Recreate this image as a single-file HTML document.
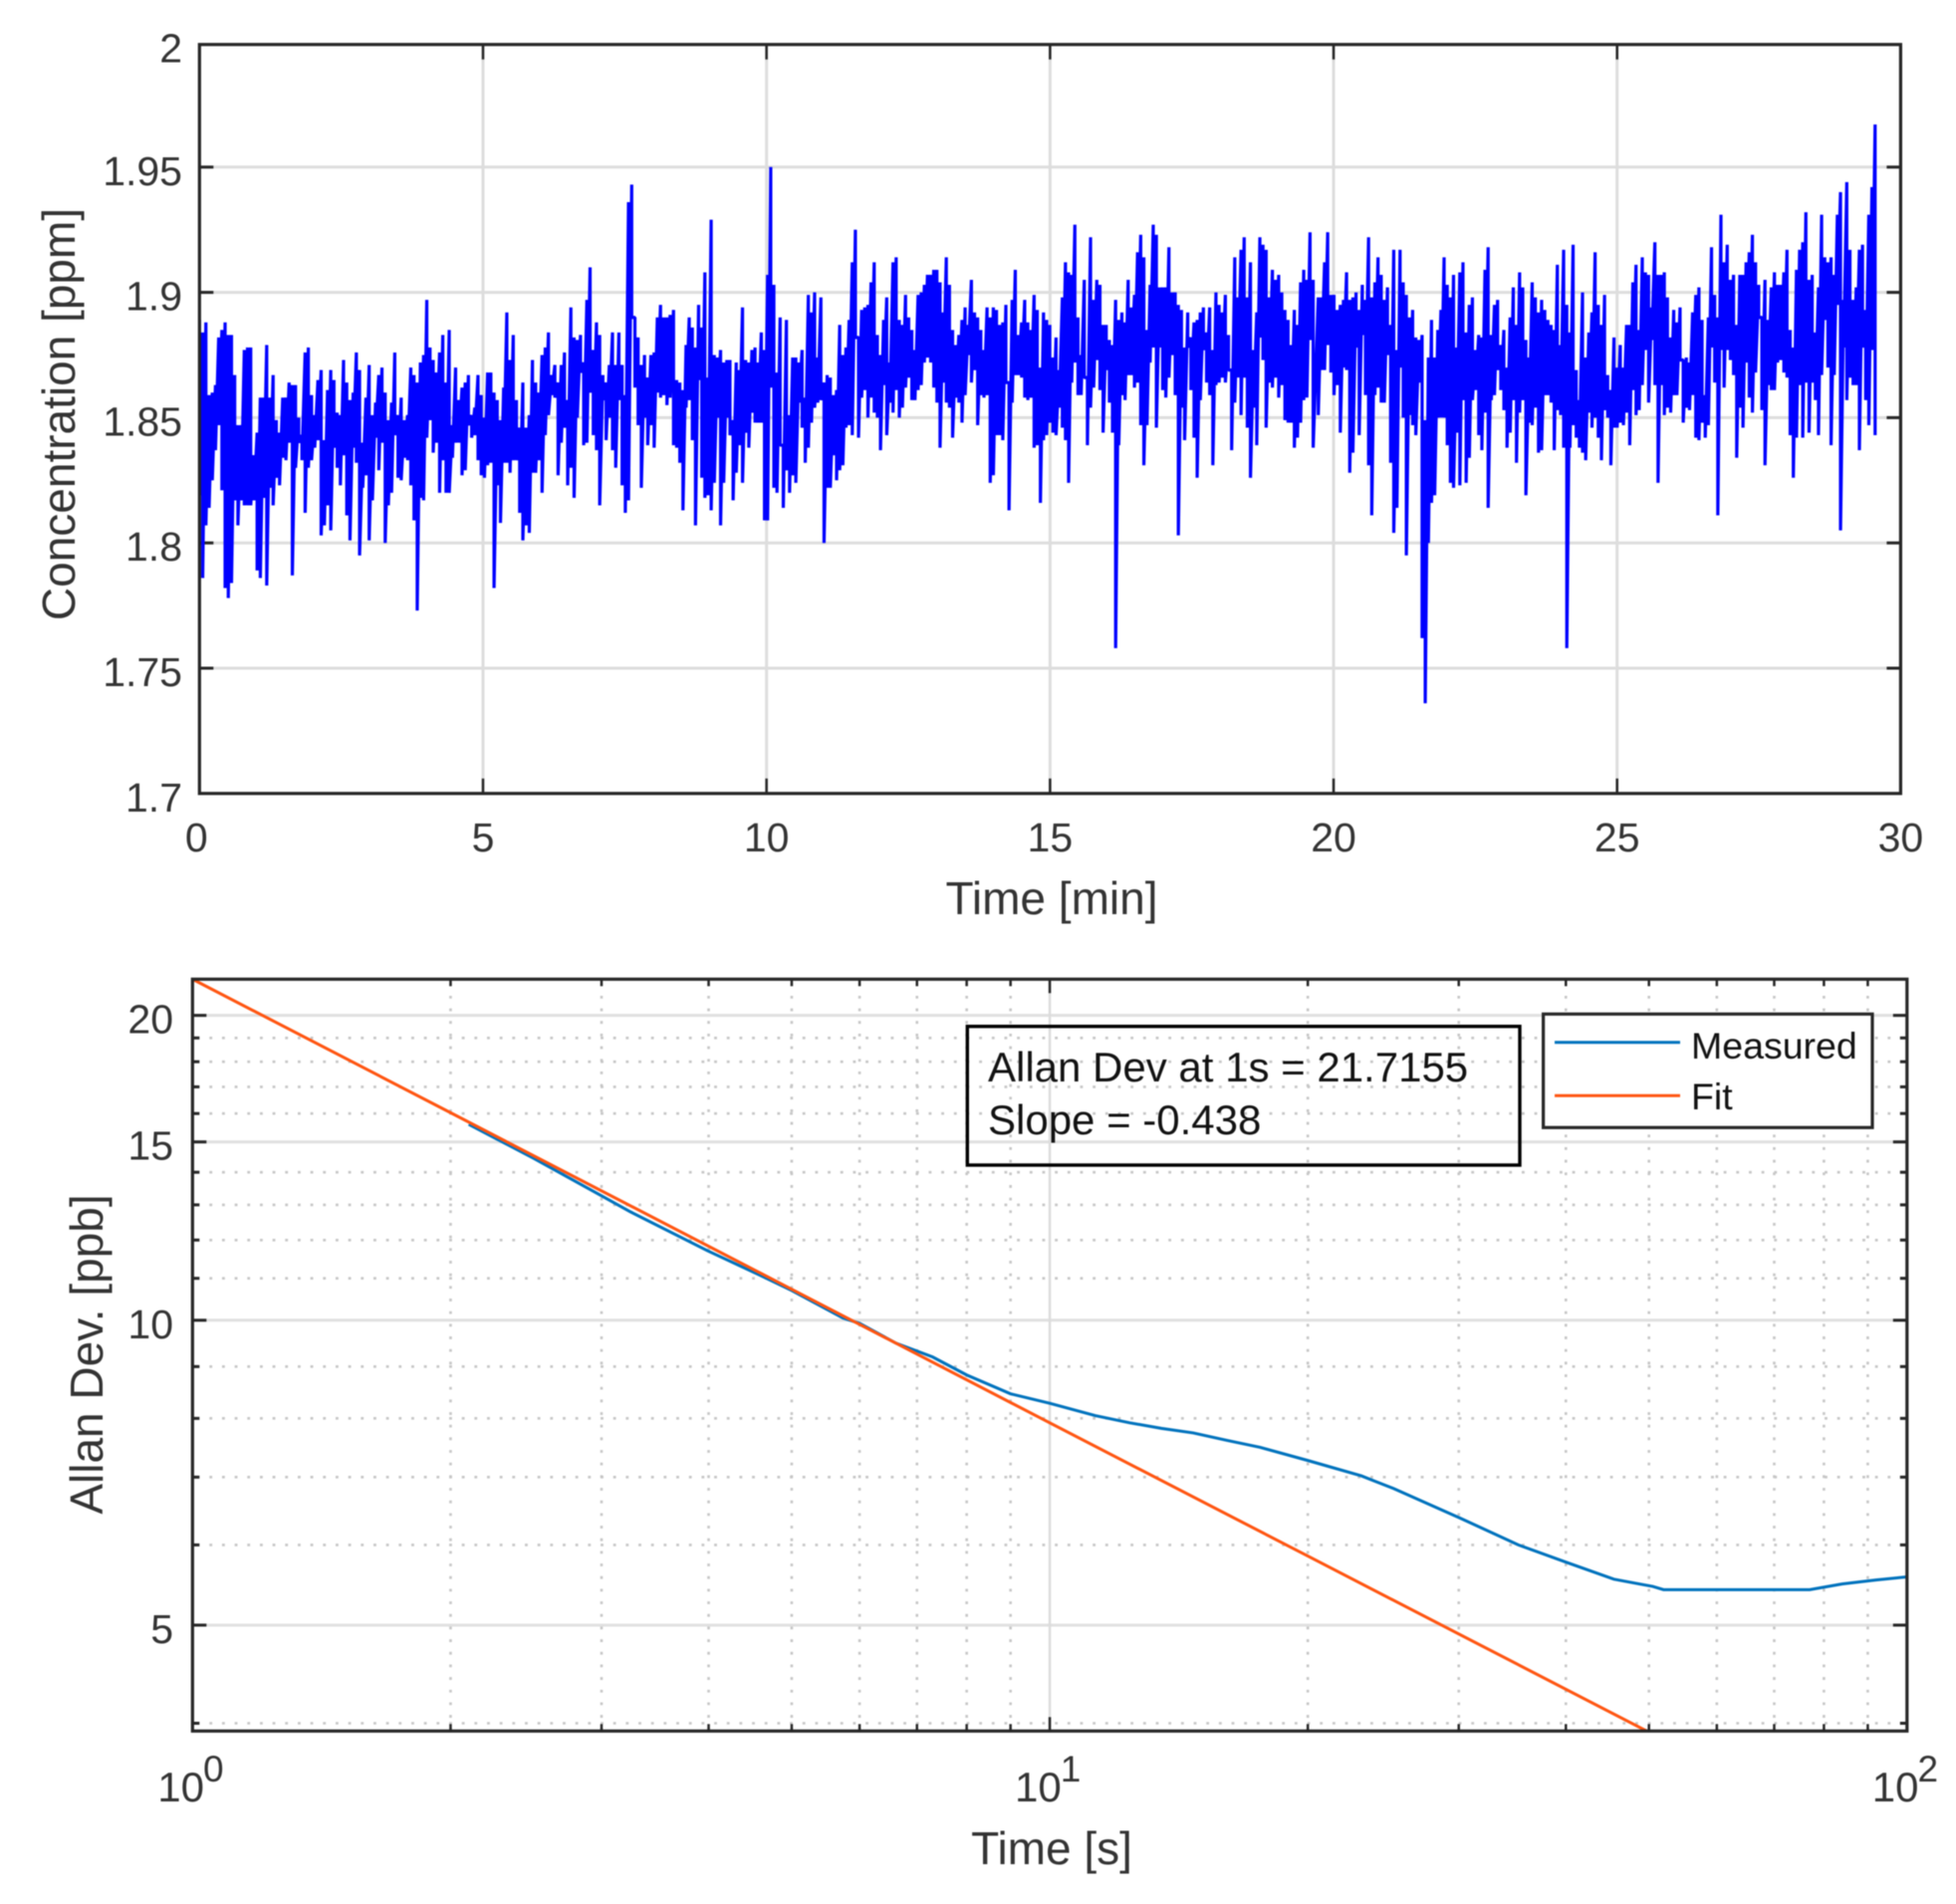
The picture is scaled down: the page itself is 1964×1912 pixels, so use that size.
<!DOCTYPE html>
<html lang="en">
<head>
<meta charset="utf-8">
<title>Concentration time series and Allan deviation</title>
<style>
html,body{margin:0;padding:0;background:#fff;}
svg{display:block;filter:blur(0.5px);}
text{font-family:"Liberation Sans",Arial,sans-serif;fill:#333333;}
</style>
</head>
<body>
<svg id="figure" xmlns="http://www.w3.org/2000/svg" width="1964" height="1912" viewBox="0 0 1964 1912">
  <defs>
    <clipPath id="clip-top"><rect x="200.3" y="44.7" width="1708.1" height="752.1"/></clipPath>
    <clipPath id="clip-bottom"><rect x="193.3" y="983.3" width="1721.5" height="755"/></clipPath>
  </defs>
  <rect x="0" y="0" width="1964" height="1912" fill="#ffffff"/>
  <g id="top-plot"></g>
  <g id="bottom-plot"></g>
  <text transform="translate(75,416) rotate(-90)" text-anchor="middle" font-size="46">Concentration [ppm]</text>
  <text x="1056" y="918" text-anchor="middle" font-size="46">Time [min]</text>
  <text transform="translate(103,1360) rotate(-90)" text-anchor="middle" font-size="46">Allan Dev. [ppb]</text>
  <text x="1056" y="1872" text-anchor="middle" font-size="46">Time [s]</text>
  <g>
    <rect x="971.3" y="1030.7" width="554.7" height="139.3" fill="none" stroke="#000000" stroke-width="3.4"/>
    <text x="992" y="1086" font-size="42" style="fill:#111111">Allan Dev at 1s = 21.7155</text>
    <text x="992" y="1139" font-size="42" style="fill:#111111">Slope = -0.438</text>
  </g>
  <g>
    <rect x="1549.6" y="1018.3" width="330.4" height="114" fill="#ffffff" stroke="#262626" stroke-width="3.2"/>
    <line x1="1561" x2="1687" y1="1046.7" y2="1046.7" stroke="#0072bd" stroke-width="3"/>
    <text x="1698" y="1063" font-size="37.5" style="fill:#111111">Measured</text>
    <line x1="1561" x2="1687" y1="1100.3" y2="1100.3" stroke="#ff5511" stroke-width="3"/>
    <text x="1698" y="1114" font-size="37.5" style="fill:#111111">Fit</text>
  </g>
</svg>
<script>
// ---------- chart data ----------
const topXTicks = [0, 5, 10, 15, 20, 25, 30];
const topYTicks = [1.7, 1.75, 1.8, 1.85, 1.9, 1.95, 2];
// Each stretch of the record: readings in ppm, as high / low pairs per plotted time step.
const segmentStartMin = [0, 8.36, 19.73];
const segmentEndMin = [8.30, 19.64, 29.55];
const concentrationEarly = [
1.889,1.819,1.884,1.786,1.888,1.807,1.859,1.814,1.860,1.825,1.863,1.837,1.882,1.847,1.885,1.821,1.888,1.782,1.883,1.778,
1.883,1.784,1.867,1.817,1.847,1.807,1.847,1.817,1.877,1.815,1.878,1.815,1.878,1.815,1.835,1.817,1.844,1.789,1.858,1.786,
1.858,1.818,1.879,1.783,1.858,1.822,1.867,1.815,1.849,1.826,1.844,1.823,1.858,1.834,1.858,1.833,1.864,1.840,1.863,1.787,
1.863,1.830,1.850,1.840,1.843,1.833,1.876,1.812,1.878,1.830,1.859,1.833,1.851,1.838,1.865,1.841,1.869,1.803,1.841,1.807,
1.861,1.815,1.869,1.805,1.865,1.838,1.852,1.830,1.851,1.823,1.873,1.835,1.864,1.811,1.857,1.801,1.860,1.838,1.876,1.832,
1.869,1.795,1.840,1.822,1.858,1.827,1.871,1.801,1.851,1.817,1.856,1.842,1.867,1.829,1.870,1.840,1.860,1.800,1.849,1.815,
1.856,1.820,1.876,1.843,1.851,1.826,1.858,1.825,1.849,1.834,1.851,1.833,1.870,1.823,1.867,1.809,1.864,1.773,1.872,1.818,
1.875,1.817,1.897,1.842,1.878,1.849,1.873,1.836,1.868,1.840,1.876,1.820,1.883,1.833,1.864,1.820,1.885,1.820,1.847,1.834,
1.870,1.840,1.857,1.840,1.862,1.827,1.864,1.829,1.867,1.847,1.851,1.842,1.854,1.843,1.867,1.833,1.859,1.827,1.850,1.826,
1.868,1.831,1.868,1.832,1.860,1.782,1.857,1.823,1.849,1.808,1.862,1.832,1.892,1.832,1.873,1.828,1.883,1.833,1.857,1.833,
1.846,1.812,1.864,1.801,1.846,1.807,1.851,1.804,1.873,1.828,1.864,1.828,1.860,1.833,1.875,1.820,1.878,1.843,1.884,1.851,
1.867,1.859,1.871,1.858,1.864,1.827,1.871,1.840,1.876,1.846,1.857,1.823,1.894,1.830,1.882,1.818,1.881,1.850,1.883,1.868,
1.872,1.839,1.897,1.840,1.910,1.860,1.877,1.843,1.888,1.837,1.883,1.815,1.867,1.857,1.864,1.841,1.871,1.850,1.884,1.837,
1.871,1.830,1.884,1.857,1.871,1.823,1.859,1.812,1.936,1.817,1.943,1.890,1.890,1.862,1.882,1.847,1.871,1.822,1.875,1.850,
1.866,1.839,1.875,1.847,1.876,1.838,1.890,1.860,1.895,1.858,1.890,1.859,1.890,1.855,1.891,1.858
];
const concentrationMiddle = [
1.893,1.839,1.865,1.838,1.864,1.832,1.861,1.813,1.879,1.854,1.890,1.857,1.886,1.841,1.878,1.807,1.895,1.865,1.886,1.826,
1.908,1.818,1.866,1.819,1.929,1.813,1.875,1.824,1.874,1.850,1.877,1.807,1.872,1.824,1.873,1.850,1.873,1.843,1.849,1.817,
1.872,1.828,1.869,1.839,1.894,1.824,1.873,1.844,1.872,1.838,1.877,1.852,1.878,1.848,1.872,1.848,1.884,1.848,1.877,1.809,
1.907,1.809,1.950,1.862,1.903,1.822,1.868,1.820,1.890,1.839,1.839,1.814,1.889,1.829,1.851,1.820,1.874,1.827,1.874,1.824,
1.872,1.856,1.877,1.846,1.858,1.832,1.899,1.838,1.892,1.848,1.900,1.854,1.874,1.856,1.898,1.857,1.864,1.800,1.867,1.822,
1.866,1.822,1.859,1.835,1.861,1.825,1.887,1.829,1.875,1.831,1.878,1.846,1.889,1.847,1.912,1.843,1.925,1.882,1.882,1.842,
1.893,1.858,1.894,1.861,1.895,1.850,1.904,1.858,1.912,1.852,1.883,1.850,1.875,1.837,1.889,1.863,1.898,1.843,1.872,1.856,
1.912,1.852,1.914,1.861,1.889,1.850,1.887,1.854,1.899,1.862,1.890,1.866,1.885,1.857,1.877,1.857,1.899,1.861,1.900,1.863,
1.903,1.872,1.907,1.874,1.907,1.872,1.909,1.862,1.909,1.856,1.904,1.838,1.892,1.864,1.914,1.856,1.903,1.854,1.885,1.842,
1.879,1.858,1.883,1.856,1.889,1.848,1.894,1.859,1.887,1.875,1.905,1.864,1.892,1.869,1.890,1.847,1.885,1.859,1.877,1.858,
1.894,1.859,1.890,1.824,1.894,1.827,1.893,1.843,1.887,1.843,1.888,1.841,1.895,1.864,1.864,1.813,1.897,1.856,1.909,1.867,
1.883,1.867,1.888,1.866,1.897,1.858,1.888,1.857,1.885,1.858,1.899,1.838,1.893,1.839,1.870,1.816,1.892,1.841,1.889,1.843,
1.887,1.848,1.874,1.844,1.882,1.843,1.869,1.854,1.898,1.846,1.912,1.841,1.908,1.824,1.907,1.864,1.927,1.872,1.890,1.859,
1.875,1.859,1.905,1.866,1.866,1.839,1.922,1.854,1.897,1.862,1.905,1.873,1.903,1.861,1.887,1.844,1.887,1.869,1.881,1.856,
1.879,1.844,1.897,1.758,1.889,1.839,1.892,1.859,1.888,1.857,1.905,1.867,1.894,1.867,1.899,1.862,1.916,1.864,1.923,1.847,
1.914,1.831,1.885,1.847,1.903,1.872,1.927,1.878,1.923,1.846,1.902,1.878,1.902,1.861,1.902,1.858,1.918,1.866,1.900,1.875,
1.900,1.859,1.895,1.803,1.893,1.854,1.878,1.841,1.892,1.878,1.882,1.861,1.888,1.842,1.889,1.826,1.892,1.857,1.894,1.877,
1.884,1.864,1.894,1.859,1.877,1.831,1.900,1.863,1.895,1.864,1.892,1.866,1.899,1.864,1.883,1.869,1.869,1.837,1.914,1.856,
1.898,1.866,1.917,1.851,1.922,1.866,1.898,1.846,1.912,1.826,1.877,1.854,1.892,1.839,1.922,1.882,1.919,1.873,1.917,1.846,
1.898,1.864,1.909,1.862,1.905,1.866,1.907,1.858,1.900,1.863,1.893,1.849,1.889,1.848,1.879,1.848,1.893,1.838,1.887,1.842,
1.904,1.848,1.909,1.857,1.905,1.858,1.924,1.881,1.905,1.838
];
const concentrationLate = [
1.898,1.851,1.898,1.869,1.912,1.869,1.924,1.879,1.899,1.868,1.899,1.859,1.893,1.863,1.895,1.844,1.897,1.870,1.908,1.869,
1.897,1.828,1.898,1.836,1.900,1.878,1.893,1.843,1.903,1.883,1.897,1.859,1.922,1.831,1.898,1.811,1.904,1.859,1.914,1.862,
1.907,1.856,1.897,1.856,1.902,1.875,1.887,1.832,1.917,1.804,1.877,1.814,1.917,1.870,1.904,1.850,1.899,1.795,1.890,1.851,
1.893,1.847,1.882,1.843,1.881,1.864,1.883,1.762,1.849,1.736,1.874,1.800,1.889,1.816,1.874,1.819,1.885,1.850,1.893,1.850,
1.914,1.850,1.903,1.839,1.898,1.824,1.907,1.822,1.878,1.844,1.908,1.823,1.912,1.857,1.884,1.824,1.895,1.834,1.898,1.857,
1.877,1.861,1.883,1.843,1.882,1.837,1.909,1.852,1.918,1.814,1.883,1.857,1.895,1.859,1.897,1.869,1.879,1.861,1.885,1.853,
1.870,1.838,1.890,1.844,1.902,1.857,1.887,1.832,1.908,1.852,1.902,1.857,1.881,1.819,1.874,1.848,1.904,1.847,1.898,1.854,
1.892,1.836,1.897,1.837,1.893,1.859,1.889,1.859,1.887,1.856,1.885,1.837,1.911,1.853,1.879,1.851,1.917,1.838,1.895,1.758,
1.884,1.838,1.919,1.847,1.869,1.842,1.857,1.838,1.900,1.836,1.874,1.833,1.884,1.852,1.892,1.846,1.916,1.850,1.895,1.842,
1.887,1.833,1.899,1.853,1.867,1.850,1.861,1.831,1.882,1.846,1.870,1.846,1.879,1.848,1.870,1.847,1.887,1.852,1.887,1.839,
1.904,1.861,1.911,1.851,1.885,1.853,1.914,1.863,1.908,1.877,1.907,1.856,1.894,1.881,1.920,1.863,1.907,1.824,1.907,1.863,
1.908,1.851,1.898,1.854,1.882,1.852,1.893,1.859,1.888,1.859,1.894,1.873,1.873,1.848,1.874,1.854,1.872,1.853,1.892,1.859,
1.899,1.842,1.902,1.841,1.889,1.848,1.859,1.842,1.890,1.847,1.918,1.878,1.899,1.864,1.890,1.811,1.931,1.877,1.912,1.862,
1.919,1.877,1.905,1.873,1.907,1.867,1.887,1.834,1.907,1.854,1.907,1.846,1.912,1.872,1.916,1.858,1.923,1.852,1.912,1.868,
1.903,1.890,1.890,1.853,1.905,1.831,1.889,1.863,1.902,1.861,1.908,1.861,1.903,1.872,1.903,1.873,1.908,1.868,1.917,1.866,
1.885,1.843,1.878,1.826,1.909,1.842,1.917,1.863,1.920,1.842,1.932,1.864,1.905,1.844,1.907,1.864,1.884,1.857,1.902,1.843,
1.931,1.867,1.914,1.889,1.912,1.870,1.914,1.839,1.907,1.867,1.931,1.895,1.940,1.805,1.897,1.878,1.944,1.857,1.917,1.866,
1.897,1.863,1.902,1.863,1.917,1.837,1.919,1.878,1.893,1.857,1.931,1.847,1.942,1.877,1.967,1.843
];

const bottomXMajorTicks = [1, 10, 100];
const bottomXMinorTicks = [2, 3, 4, 5, 6, 7, 8, 9, 20, 30, 40, 50, 60, 70, 80, 90];
const bottomYMajorTicks = [5, 10, 15, 20];
const bottomYMinorTicks = [4, 6, 7, 8, 9, 11, 12, 13, 14, 16, 17, 18, 19];
const tauSeconds = [2.1, 2.5, 3, 3.24, 3.99, 4.59, 5, 5.74, 6, 6.62, 7.3, 8, 9, 10, 11.3, 12.4, 13.5, 14.7, 16.1, 17.6, 20, 23.1, 24, 25.2, 30.2, 35.2, 40, 45.5, 50.5, 52, 77, 84, 92, 100];
const measuredDev = [15.61, 14.45, 13.27, 12.8, 11.71, 11.08, 10.7, 10.05, 9.93, 9.49, 9.2, 8.83, 8.46, 8.28, 8.05, 7.92, 7.82, 7.74, 7.61, 7.49, 7.27, 7.02, 6.93, 6.82, 6.37, 6, 5.77, 5.55, 5.46, 5.42, 5.42, 5.49, 5.54, 5.58];
const fitTau = [1, 2, 5, 10, 20, 50];
const fitDev = [21.7155, 16.03, 10.73, 7.92, 5.85, 3.92];

// ---------- axis functions ----------
const NS = 'http://www.w3.org/2000/svg';
const topFrame = {left: 200.3, right: 1908.4, top: 44.7, bottom: 796.8};
const botFrame = {left: 193.3, right: 1914.8, top: 983.3, bottom: 1738.3};
const yAtTop = 42; // pixel position that the value 2 ppm would map to
const botYMax = 21.7155, botYMin = 3.93;

function topX(v) { return topFrame.left + (v - 0) / 30 * (topFrame.right - topFrame.left); }
function topY(v) { return topFrame.bottom - (v - 1.7) / 0.3 * (topFrame.bottom - yAtTop); }
function botX(v) { return botFrame.left + Math.log10(v) / 2 * (botFrame.right - botFrame.left); }
function botY(v) { return botFrame.top + Math.log10(botYMax / v) / Math.log10(botYMax / botYMin) * (botFrame.bottom - botFrame.top); }

function make(tag, attrs, parent) {
  const el = document.createElementNS(NS, tag);
  for (const k in attrs) el.setAttribute(k, attrs[k]);
  parent.appendChild(el);
  return el;
}

const INK = '#262626';
const topG = document.getElementById('top-plot');
const botG = document.getElementById('bottom-plot');

// ---------- top chart ----------
topXTicks.forEach(function (v) {
  const x = topX(v);
  if (v > 0 && v < 30) {
    const g = make('line', {x1: x, x2: x, y1: topFrame.top, y2: topFrame.bottom, stroke: '#dddddd', 'stroke-width': 3}, topG);
    
    
    const t1 = make('line', {x1: x, x2: x, y1: topFrame.top, y2: topFrame.top + 15, stroke: INK, 'stroke-width': 2.5}, topG);
    
    
    const t2 = make('line', {x1: x, x2: x, y1: topFrame.bottom, y2: topFrame.bottom - 15, stroke: INK, 'stroke-width': 2.5}, topG);
    
    
  }
  const lab = make('text', {x: v === 0 ? x - 3 : x, y: 855, 'text-anchor': 'middle', 'font-size': 41}, topG);
  
  
  lab.textContent = String(v);
});
topYTicks.forEach(function (v) {
  const y = Math.max(topY(v), topFrame.top);
  if (v > 1.7 && v < 2) {
    const g = make('line', {x1: topFrame.left, x2: topFrame.right, y1: y, y2: y, stroke: '#dddddd', 'stroke-width': 3}, topG);
    
    
    const t1 = make('line', {x1: topFrame.left, x2: topFrame.left + 14, y1: y, y2: y, stroke: INK, 'stroke-width': 3}, topG);
    
    
    const t2 = make('line', {x1: topFrame.right, x2: topFrame.right - 14, y1: y, y2: y, stroke: INK, 'stroke-width': 3}, topG);
    
    
  }
  const lab = make('text', {x: 183, y: y + 18, 'text-anchor': 'end', 'font-size': 41}, topG);
  
  
  lab.textContent = String(v);
});
// Each high/low pair shares one time step, so every step is drawn as a vertical column.
const concentrationSegments = [concentrationEarly, concentrationMiddle, concentrationLate];
const concCoords = [];
concentrationSegments.forEach(function (values, s) {
  const steps = Math.ceil(values.length / 2);
  const dt = (segmentEndMin[s] - segmentStartMin[s]) / (steps - 1);
  values.forEach(function (v, i) {
    const t = segmentStartMin[s] + Math.floor(i / 2) * dt;
    concCoords.push(topX(t).toFixed(2) + ',' + topY(v).toFixed(2));
  });
});
const concLine = make('polyline', {points: concCoords.join(' '), fill: 'none', stroke: '#0000ff', 'stroke-width': 3.2, 'stroke-linejoin': 'miter', 'stroke-miterlimit': 1, 'clip-path': 'url(#clip-top)'}, topG);


const topBox = make('rect', {x: topFrame.left, y: topFrame.top, width: topFrame.right - topFrame.left, height: topFrame.bottom - topFrame.top, fill: 'none', stroke: INK, 'stroke-width': 3.2}, topG);



// ---------- bottom chart ----------
bottomYMinorTicks.forEach(function (v) {
  const y = botY(v);
  const g = make('line', {x1: botFrame.left + 17, x2: botFrame.right, y1: y, y2: y, stroke: '#c6c6c6', 'stroke-width': 2.6, 'stroke-dasharray': '2.8 9.87'}, botG);
  
  
  const t1 = make('line', {x1: botFrame.left, x2: botFrame.left + 7, y1: y, y2: y, stroke: INK, 'stroke-width': 3}, botG);
  
  
  const t2 = make('line', {x1: botFrame.right, x2: botFrame.right - 7, y1: y, y2: y, stroke: INK, 'stroke-width': 3}, botG);
  
  
});
bottomXMinorTicks.forEach(function (v) {
  const x = botX(v);
  const g = make('line', {x1: x, x2: x, y1: botFrame.top + 4, y2: botFrame.bottom, stroke: '#c6c6c6', 'stroke-width': 2.6, 'stroke-dasharray': '2.8 9.87'}, botG);
  
  
  const t1 = make('line', {x1: x, x2: x, y1: botFrame.top, y2: botFrame.top + 7, stroke: INK, 'stroke-width': 2.5}, botG);
  
  
  const t2 = make('line', {x1: x, x2: x, y1: botFrame.bottom, y2: botFrame.bottom - 7, stroke: INK, 'stroke-width': 2.5}, botG);
  
  
});
bottomYMajorTicks.forEach(function (v) {
  const y = botY(v);
  const g = make('line', {x1: botFrame.left, x2: botFrame.right, y1: y, y2: y, stroke: '#e0e0e0', 'stroke-width': 3}, botG);
  
  
  const t1 = make('line', {x1: botFrame.left, x2: botFrame.left + 14, y1: y, y2: y, stroke: INK, 'stroke-width': 3}, botG);
  
  
  const t2 = make('line', {x1: botFrame.right, x2: botFrame.right - 14, y1: y, y2: y, stroke: INK, 'stroke-width': 3}, botG);
  
  
  const lab = make('text', {x: 174, y: y + 18, 'text-anchor': 'end', 'font-size': 41}, botG);
  
  
  lab.textContent = String(v);
});
bottomXMajorTicks.forEach(function (v) {
  const x = botX(v);
  if (v > 1 && v < 100) {
    const g = make('line', {x1: x, x2: x, y1: botFrame.top, y2: botFrame.bottom, stroke: '#dcdcdc', 'stroke-width': 2.5}, botG);
    
    
    const t1 = make('line', {x1: x, x2: x, y1: botFrame.top, y2: botFrame.top + 14, stroke: INK, 'stroke-width': 2.5}, botG);
    
    
    const t2 = make('line', {x1: x, x2: x, y1: botFrame.bottom, y2: botFrame.bottom - 14, stroke: INK, 'stroke-width': 2.5}, botG);
    
    
  }
  const lab = make('text', {x: x - 35, y: 1809, 'font-size': 42}, botG);
  
  
  lab.appendChild(document.createTextNode('10'));
  const exp = make('tspan', {dx: -1, dy: -20, 'font-size': 37}, lab);
  exp.textContent = String(Math.round(Math.log10(v)));
});
const measuredPts = tauSeconds.map(function (t, i) {
  return botX(t).toFixed(2) + ',' + botY(measuredDev[i]).toFixed(2);
}).join(' ');
const measuredLine = make('polyline', {points: measuredPts, fill: 'none', stroke: '#0072bd', 'stroke-width': 3, 'clip-path': 'url(#clip-bottom)'}, botG);


const fitPts = fitTau.map(function (t, i) {
  return botX(t).toFixed(2) + ',' + botY(fitDev[i]).toFixed(2);
}).join(' ');
const fitLine = make('polyline', {points: fitPts, fill: 'none', stroke: '#ff5511', 'stroke-width': 3, 'clip-path': 'url(#clip-bottom)'}, botG);


const botBox = make('rect', {x: botFrame.left, y: botFrame.top, width: botFrame.right - botFrame.left, height: botFrame.bottom - botFrame.top, fill: 'none', stroke: INK, 'stroke-width': 3.2}, botG);


</script>
</body>
</html>
